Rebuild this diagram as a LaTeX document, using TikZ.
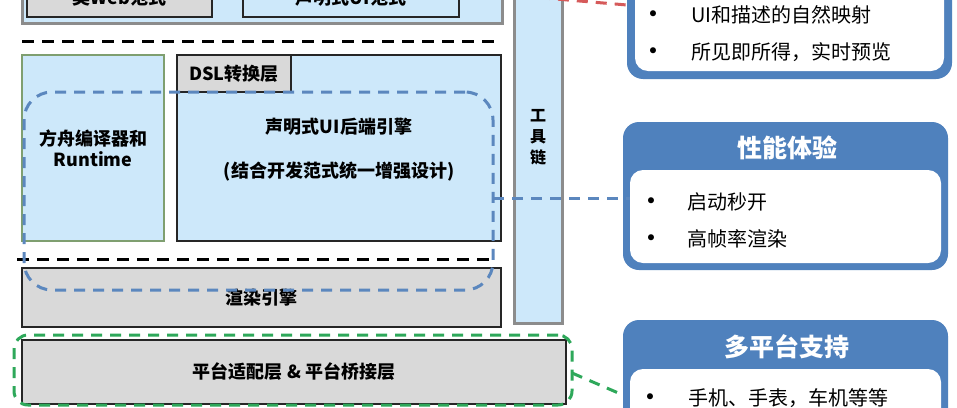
\documentclass[tikz,border=0pt]{standalone}
\usepackage{fontspec}
\setmainfont{Noto Sans CJK SC}
\newfontfamily\latinf{Carlito}
\usetikzlibrary{calc}
\definecolor{lblue}{HTML}{CDE8FA}
\definecolor{gfill}{HTML}{D9D9D9}
\definecolor{hblue}{HTML}{4F81BD}
\definecolor{dblue}{HTML}{5B87BE}
\definecolor{dgreen}{HTML}{2EA85A}
\definecolor{dred}{HTML}{D65A5A}
\definecolor{gborder}{HTML}{8C8C8C}
\definecolor{grnborder}{HTML}{7F9F70}
\begin{document}
\begin{tikzpicture}[x=1pt,y=-1pt,
 box/.style={draw=black!85,line width=1.3pt,inner sep=0pt,outer sep=0pt,anchor=north west},
 lbl/.style={font=\bfseries\fontsize{18}{21}\selectfont,align=center},
 bul/.style={font=\fontsize{20}{24}\selectfont,anchor=west},
 dotm/.style={font=\latinf\fontsize{17}{20}\selectfont},
 hdr/.style={font=\bfseries\fontsize{25}{30}\selectfont,text=white},
 thickdash/.style={line width=3pt,dash pattern=on 12pt off 8pt},
 fancydash/.style={line width=3pt,dash pattern=on 11pt off 8pt},
 outerblue/.style={fill=hblue,rounded corners=16pt,inner sep=0pt,outer sep=0pt,anchor=north west},
 innerwhite/.style={fill=white,rounded corners=13pt,inner sep=0pt,outer sep=0pt,anchor=north west},
]
\useasboundingbox (0,0) rectangle (957,407);
\clip (0,0) rectangle (957,407);
\fill[white] (0,0) rectangle (957,407);

% top paradigm area
\node[box,draw=gborder,line width=3pt,fill=lblue,minimum width=480pt,minimum height=60pt] (top) at (22,-37) {};
\node[box,fill=gfill,minimum width=185pt,minimum height=38pt,lbl] (web) at (27,-21) {类Web范式};
\node[box,fill=lblue,minimum width=216pt,minimum height=38pt,lbl] (decl) at (243,-21) {声明式UI范式};

% dashed separator 1
\coordinate (d1a) at (22,41);
\coordinate (d1b) at (495,41);
\draw[thickdash] (d1a) -- (d1b);

% ark compiler
\node[box,draw=grnborder,line width=1.2pt,fill=lblue,minimum width=142pt,minimum height=186pt] (ark) at (22,55) {};
\node[lbl] (arkt) at (93,148) {方舟编译器和\\Runtime};

% backend engine
\node[box,fill=lblue,minimum width=324pt,minimum height=186pt] (eng) at (177,55) {};
\node[box,fill=gfill,minimum width=114pt,minimum height=37pt,lbl] (dsl) at (177,55) {DSL转换层};
\node[lbl] (engt1) at (339,127) {声明式UI后端引擎};
\node[lbl] (engt2) at (339,172) {(结合开发范式统一增强设计)};

% dashed separator 2
\coordinate (d2a) at (17,259);
\coordinate (d2b) at (492,259);
\draw[thickdash] (d2a) -- (d2b);

% render engine
\node[box,fill=gfill,minimum width=479pt,minimum height=59pt,lbl] (render) at (22,268) {渲染引擎};

% blue dashed group
\node[draw=dblue,fancydash,rounded corners=28pt,minimum width=469pt,minimum height=198pt,anchor=north west,inner sep=0pt,outer sep=0pt] (bluer) at (24,92) {};

% toolchain column
\node[box,draw=gborder,line width=3pt,fill=lblue,minimum width=48pt,minimum height=383pt] (tool) at (514,-60) {};
\node[lbl,font=\bfseries\fontsize{16}{21}\selectfont] (toolt) at (538,137) {工\\具\\链};

% platform layer
\node[box,fill=gfill,minimum width=544pt,minimum height=64pt,lbl] (plat) at (22,340) {平台适配层 \& 平台桥接层};
\node[draw=dgreen,fancydash,rounded corners=14pt,minimum width=558pt,minimum height=70pt,anchor=north west,inner sep=0pt,outer sep=0pt] (greenr) at (14,335) {};

% right box 1
\node[outerblue,minimum width=325pt,minimum height=160pt] (b1) at (627,-81) {};
\node[innerwhite,minimum width=309pt,minimum height=120pt] (b1in) at (635,-49) {};
\node[dotm] (b1d1) at (653,15) {•};
\node[bul] (b1t1) at (688,15) {UI和描述的自然映射};
\node[dotm] (b1d2) at (653,52) {•};
\node[bul] (b1t2) at (688,52) {所见即所得，实时预览};

% right box 2
\node[outerblue,minimum width=325pt,minimum height=148pt] (b2) at (623,122) {};
\node[innerwhite,minimum width=311pt,minimum height=93pt] (b2in) at (630,170) {};
\node[hdr] (b2h) at (787,148) {性能体验};
\node[dotm] (b2d1) at (651,202) {•};
\node[bul] (b2t1) at (684,202) {启动秒开};
\node[dotm] (b2d2) at (651,239) {•};
\node[bul] (b2t2) at (684,239) {高帧率渲染};

% right box 3
\node[outerblue,minimum width=325pt,minimum height=160pt] (b3) at (623,320) {};
\node[innerwhite,minimum width=311pt,minimum height=100pt] (b3in) at (630,369) {};
\node[hdr] (b3h) at (787,347) {多平台支持};
\node[dotm] (b3d1) at (650,398) {•};
\node[bul] (b3t1) at (685,398) {手机、手表，车机等等};

% connectors
\coordinate (redstart) at (520,-4);
\draw[dred,fancydash] (redstart) -- (b1.west |- 0,5);
\draw[dblue,fancydash] (bluer.east |- 0,198) -- (b2in.west |- 0,198);
\draw[dgreen,fancydash] (greenr.east |- 0,373) -- (b3.west |- 0,395);
\end{tikzpicture}
\end{document}
